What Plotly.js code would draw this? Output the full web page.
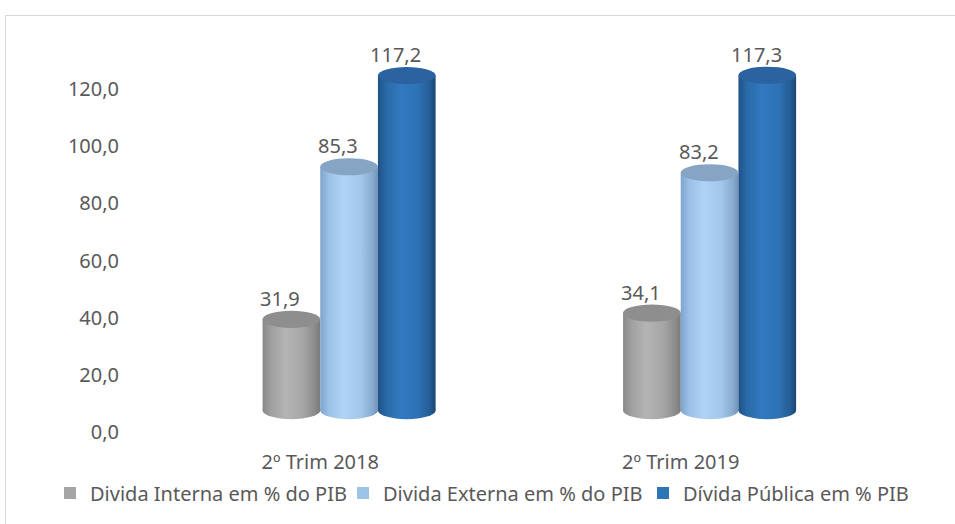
<!DOCTYPE html>
<html>
<head>
<meta charset="utf-8">
<script src="https://cdn.plot.ly/plotly-3.0.1.min.js"></script>
<style>
  html, body { margin: 0; padding: 0; background: #ffffff; overflow: hidden; }
  #frame { position: absolute; left: 5px; top: 15px; width: 1000px; height: 600px;
           border: 1px solid #d9d9d9; box-sizing: border-box; }
  #chart { position: absolute; left: 0; top: 0; width: 955px; height: 524px; }
</style>
</head>
<body>
<div id="frame"></div>
<div id="chart"></div>
<script>
// ---- data ----
const categories = ['2º Trim 2018', '2º Trim 2019'];
const seriesNames = ['Divida Interna em % do PIB', 'Divida Externa em % do PIB', 'Dívida Pública em % PIB'];
const dividaInterna = [31.9, 34.1];
const dividaExterna = [85.3, 83.2];
const dividaPublica = [117.2, 117.3];
const yTickVals = [0, 20, 40, 60, 80, 100, 120];

// ---- style ----
const seriesValues = [dividaInterna, dividaExterna, dividaPublica];
const baseColors = ['#a5a5a5', '#9dc3e6', '#2e75b6'];
const capColors = ['#8e8e8e', '#86a5c4', '#2b62a0'];
const gradients = [
  [[0, '#8a8a8a'], [0.15, '#a0a0a0'], [0.4, '#b4b4b4'], [0.7, '#a6a6a6'], [0.9, '#8c8c8c'], [1, '#7a7a7a']],
  [[0, '#7ea4cc'], [0.15, '#9cc1e8'], [0.4, '#afd3f6'], [0.7, '#a3c7eb'], [0.9, '#89acd1'], [1, '#7391b5']],
  [[0, '#1f5286'], [0.15, '#2a6aa8'], [0.4, '#3179c0'], [0.7, '#2d72b4'], [0.9, '#245d95'], [1, '#1b4672']]
];
const BAR_W = 0.16;
const offsets = [-BAR_W, 0, BAR_W];
const CAP_H = 3;          // half height of cylinder cap, in data units
const DEPTH = 7.5;        // 3D depth shift of the bars (data units)
const Y_RANGE = [-6.3, 137.15];
const textColor = '#595959';
const FONT = 'Noto Sans, Open Sans, sans-serif';
const legendIds = ['legend', 'legend2', 'legend3'];
const legendX = [50, 343, 643];   // px, left edge of each legend item

const fmt = v => v.toFixed(1).replace('.', ',');

const traces = seriesValues.map((vals, i) => ({
  type: 'bar',
  name: seriesNames[i],
  x: categories,
  y: vals,
  yaxis: 'y2',
  legend: legendIds[i],
  width: BAR_W,
  offset: offsets[i],
  marker: { color: baseColors[i], line: { width: 0 } },
  hoverinfo: 'none'
}));
// empty trace that anchors the front (labelled) value axis
traces.push({ type: 'scatter', mode: 'markers', x: [], y: [], xaxis: 'x', yaxis: 'y',
              showlegend: false, hoverinfo: 'none' });

const shapes = [];
const annotations = [];
// bottom ellipses (below bars)
seriesValues.forEach((vals, i) => {
  vals.forEach((v, j) => {
    const x0 = j + offsets[i];
    shapes.push({ type: 'circle', xref: 'x', yref: 'y2', layer: 'below',
      x0: x0, x1: x0 + BAR_W, y0: -CAP_H, y1: CAP_H,
      fillcolor: baseColors[i], line: { width: 0 } });
  });
});
// top caps
seriesValues.forEach((vals, i) => {
  vals.forEach((v, j) => {
    const x0 = j + offsets[i];
    shapes.push({ type: 'circle', xref: 'x', yref: 'y2', layer: 'above',
      x0: x0, x1: x0 + BAR_W, y0: v - CAP_H, y1: v + CAP_H,
      fillcolor: capColors[i], line: { width: 0 } });
    annotations.push({ xref: 'x', yref: 'y2', x: x0 + BAR_W / 2, y: v,
      text: fmt(v), showarrow: false, yanchor: 'middle', yshift: 21, xshift: -11,
      font: { family: FONT, size: 20, color: textColor } });
  });
});

const layout = {
  width: 955, height: 524,
  margin: { l: 139.5, r: 93.5, t: 40, b: 74 },
  paper_bgcolor: 'rgba(0,0,0,0)',
  plot_bgcolor: 'rgba(0,0,0,0)',
  separators: ',.',
  font: { family: FONT, size: 20, color: textColor },
  barmode: 'group',
  showlegend: true,
  xaxis: { type: 'category', range: [-0.5, 1.5], showgrid: false, zeroline: false, showline: false,
           ticks: '', tickfont: { family: FONT, size: 20, color: textColor }, ticklabelstandoff: -2 },
  yaxis: { range: Y_RANGE, tickmode: 'array', tickvals: yTickVals, tickformat: '.1f', showgrid: false,
           zeroline: false, showline: false, ticks: '', ticklabelstandoff: 20, showticklabels: true,
           tickfont: { family: FONT, size: 20, color: textColor } },
  yaxis2: { overlaying: 'y', range: [Y_RANGE[0] - DEPTH, Y_RANGE[1] - DEPTH], visible: false,
            showgrid: false, zeroline: false },
  shapes: shapes,
  annotations: annotations
};
legendIds.forEach((id, i) => {
  layout[id] = { orientation: 'h', xref: 'container', yref: 'container',
    x: legendX[i] / 955, xanchor: 'left', y: 0.059, yanchor: 'middle',
    font: { family: FONT, size: 20, color: textColor }, itemclick: false,
    bgcolor: 'rgba(0,0,0,0)', borderwidth: 0 };
});

Plotly.newPlot('chart', traces, layout, { staticPlot: true, displayModeBar: false }).then(gd => {
  const NS = 'http://www.w3.org/2000/svg';
  const svg = gd.querySelector('svg.main-svg');
  let defs = svg.querySelector('defs');
  if (!defs) { defs = document.createElementNS(NS, 'defs'); svg.insertBefore(defs, svg.firstChild); }
  gradients.forEach((stops, i) => {
    const lg = document.createElementNS(NS, 'linearGradient');
    lg.setAttribute('id', 'cyl' + i);
    lg.setAttribute('x1', '0'); lg.setAttribute('y1', '0');
    lg.setAttribute('x2', '1'); lg.setAttribute('y2', '0');
    stops.forEach(([off, col]) => {
      const s = document.createElementNS(NS, 'stop');
      s.setAttribute('offset', off);
      s.setAttribute('stop-color', col);
      lg.appendChild(s);
    });
    defs.appendChild(lg);
  });
  gd.querySelectorAll('.barlayer .trace').forEach((g, i) => {
    g.querySelectorAll('path').forEach(p => { p.style.fill = 'url(#cyl' + i + ')'; });
  });
  const nPer = categories.length;
  for (let k = 0; k < seriesValues.length * nPer; k++) {
    const i = Math.floor(k / nPer);
    gd.querySelectorAll('.shapelayer path[data-index="' + k + '"]').forEach(p => {
      p.style.fill = 'url(#cyl' + i + ')';
    });
  }
});
</script>
</body>
</html>
